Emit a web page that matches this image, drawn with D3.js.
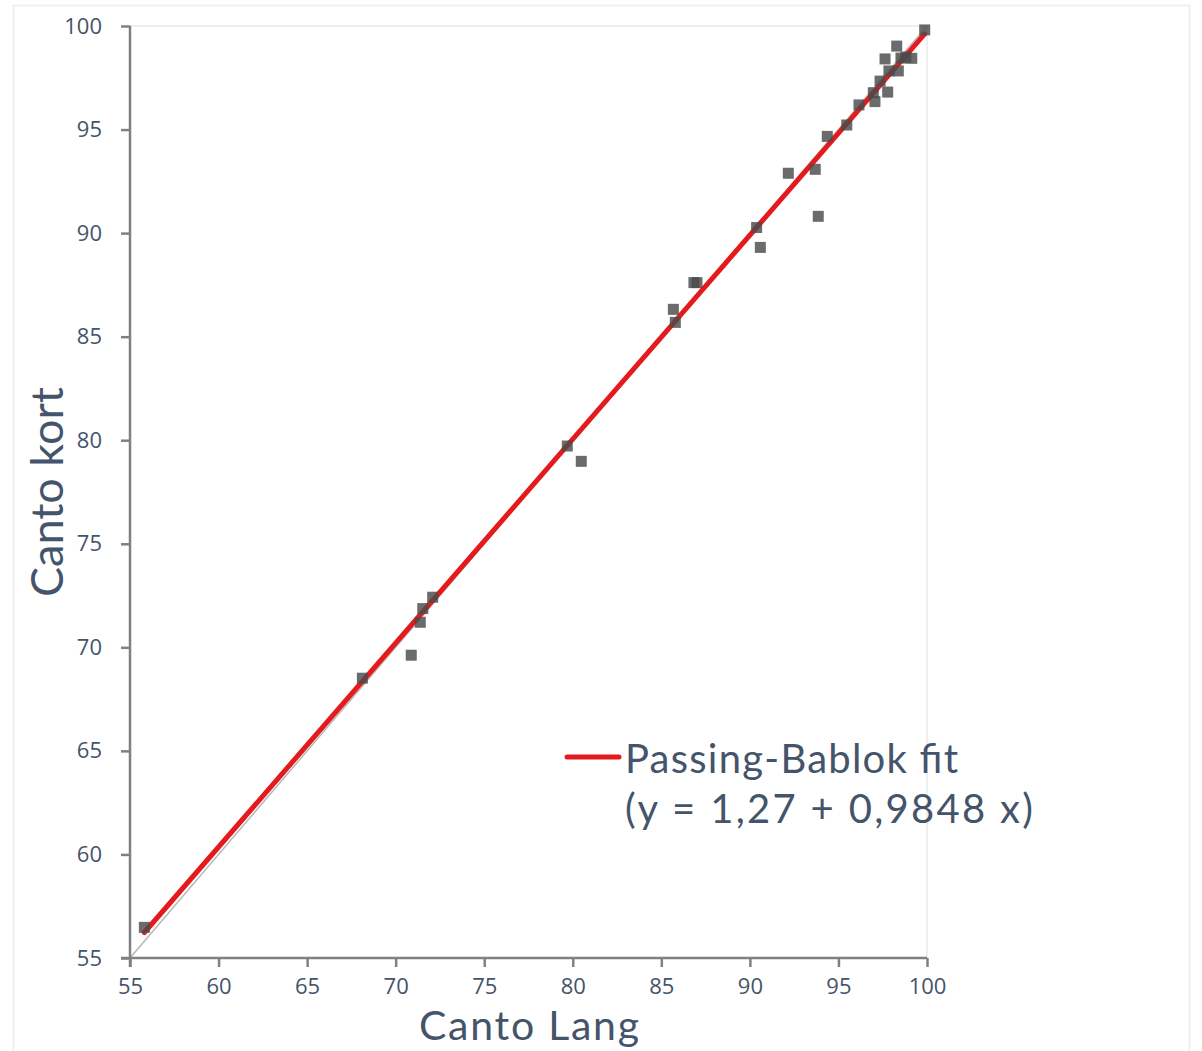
<!DOCTYPE html>
<html>
<head>
<meta charset="utf-8">
<script src="https://cdn.jsdelivr.net/npm/d3@7"></script>
<style>
  html, body { margin: 0; padding: 0; background: #fff; }
  svg { display: block; }
</style>
</head>
<body>
<svg id="chart" width="1202" height="1051"></svg>
<script>
// Paired measurements: Canto Lang (x) vs Canto kort (y)
const cantoLang = [55.81, 68.12, 70.88, 71.39, 71.53, 72.09, 79.69, 80.48, 85.68, 85.79,
  86.84, 87.01, 90.38, 90.59, 92.17, 93.69, 93.86, 94.37, 95.47, 96.16,
  96.97, 97.06, 97.35, 97.78, 97.63, 97.85, 98.38, 98.29, 98.53, 98.81,
  99.14, 99.87];
const cantoKort = [56.48, 68.51, 69.62, 71.21, 71.87, 72.42, 79.72, 78.98, 86.32, 85.69,
  87.61, 87.61, 90.27, 89.31, 92.89, 93.08, 90.81, 94.67, 95.22, 96.19,
  96.78, 96.35, 97.34, 96.81, 98.41, 97.83, 97.83, 99.03, 98.45, 98.50,
  98.44, 99.81];

// Passing-Bablok regression coefficients
const fitIntercept = 1.27;
const fitSlope = 0.9848;

const xTicks = [55, 60, 65, 70, 75, 80, 85, 90, 95, 100];
const yTicks = [55, 60, 65, 70, 75, 80, 85, 90, 95, 100];
const legendLines = ["Passing-Bablok fit", "(y = 1,27 + 0,9848 x)"];

const textColor = "#44546A";
const axisColor = "#808080";

const svg = d3.select("#chart");

// outer frame of the chart area
svg.append("rect")
  .attr("x", 13.5).attr("y", 5.5)
  .attr("width", 1176).attr("height", 1060)
  .attr("fill", "#fff").attr("stroke", "#ececec").attr("stroke-width", 1.5);

const x = d3.scaleLinear().domain([55, 100]).range([130, 927]);
const y = d3.scaleLinear().domain([55, 100]).range([958, 26]);

// plot area outline (top and right edges)
svg.append("path")
  .attr("d", `M${x(55)},${y(100)}H${x(100)}V${y(55)}`)
  .attr("fill", "none").attr("stroke", "#eeeeee").attr("stroke-width", 2);

// line of identity
svg.append("line")
  .attr("x1", x(55)).attr("y1", y(55))
  .attr("x2", x(100)).attr("y2", y(100))
  .attr("stroke", "#b8b8b8").attr("stroke-width", 1.5);

// fitted regression line over the data range
const xMin = d3.min(cantoLang), xMax = d3.max(cantoLang);
const fit = v => fitIntercept + fitSlope * v;
svg.append("line")
  .attr("x1", x(xMin)).attr("y1", y(fit(xMin)))
  .attr("x2", x(xMax)).attr("y2", y(fit(xMax)))
  .attr("stroke", "#E41A1C").attr("stroke-width", 5)
  .attr("stroke-linecap", "round");

// data points
const pts = cantoLang.map((v, i) => ({ x: v, y: cantoKort[i] }));
const sz = 11;
svg.append("g").selectAll("rect")
  .data(pts).join("rect")
  .attr("x", d => x(d.x) - sz / 2)
  .attr("y", d => y(d.y) - sz / 2)
  .attr("width", sz).attr("height", sz)
  .attr("fill", "#4a4a4a").attr("fill-opacity", 0.82);

// axes
const xAxis = d3.axisBottom(x).tickValues(xTicks).tickSize(9).tickPadding(11).tickFormat(d3.format("d"));
const yAxis = d3.axisLeft(y).tickValues(yTicks).tickSize(9).tickPadding(19).tickFormat(d3.format("d"));

const gx = svg.append("g").attr("transform", `translate(0,${y(55)})`).call(xAxis);
const gy = svg.append("g").attr("transform", `translate(${x(55)},0)`).call(yAxis);

[gx, gy].forEach(g => {
  g.select(".domain").attr("stroke", axisColor).attr("stroke-width", 2.5);
  g.selectAll(".tick line").attr("stroke", axisColor).attr("stroke-width", 2.5);
  g.selectAll(".tick text")
    .attr("fill", textColor)
    .attr("font-family", "'Open Sans', sans-serif")
    .attr("font-size", 22);
});
gx.select(".domain").attr("d", `M${x(55) - 9},0H${x(100)}`);
gy.select(".domain").attr("d", `M0,${y(100)}V${y(55) + 9}`);

// axis titles
svg.append("text")
  .attr("x", 529).attr("y", 1040)
  .attr("text-anchor", "middle")
  .attr("fill", textColor)
  .attr("font-family", "Lato, sans-serif")
  .attr("font-size", 41)
  .attr("textLength", 220)
  .attr("lengthAdjust", "spacing")
  .text("Canto Lang");

svg.append("text")
  .attr("transform", "translate(63,492) rotate(-90)")
  .attr("text-anchor", "middle")
  .attr("fill", textColor)
  .attr("font-family", "Lato, sans-serif")
  .attr("font-size", 45)
  .text("Canto kort");

// legend
const legendWidths = [333, 408];
const lg = svg.append("g");
lg.append("line")
  .attr("x1", 567).attr("x2", 619)
  .attr("y1", 757).attr("y2", 757)
  .attr("stroke", "#E41A1C").attr("stroke-width", 5)
  .attr("stroke-linecap", "round");
lg.selectAll("text")
  .data(legendLines).join("text")
  .attr("x", 625)
  .attr("y", (d, i) => 773 + i * 50)
  .attr("fill", textColor)
  .attr("font-family", "Lato, sans-serif")
  .attr("font-size", 40)
  .attr("textLength", (d, i) => legendWidths[i])
  .attr("lengthAdjust", "spacing")
  .text(d => d);
</script>
</body>
</html>
